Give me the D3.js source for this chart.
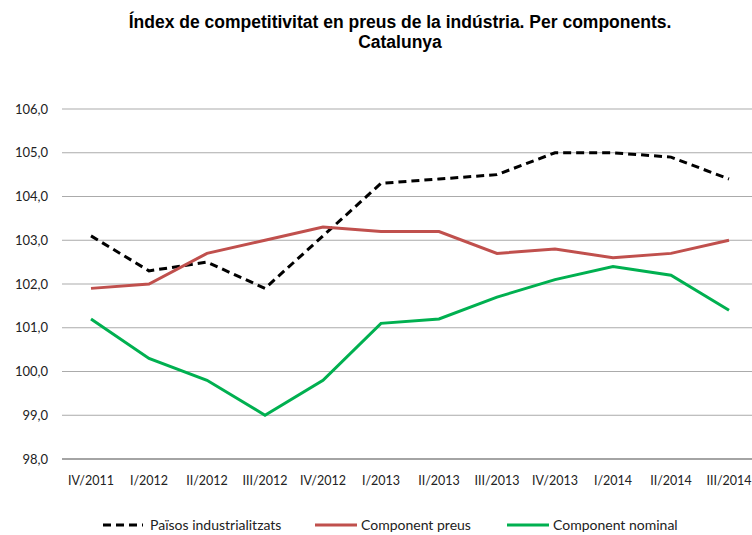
<!DOCTYPE html>
<html>
<head>
<meta charset="utf-8">
<script src="https://cdn.jsdelivr.net/npm/d3@7"></script>
<style>
body{margin:0;background:#fff;}
</style>
</head>
<body>
<div id="chart-area"></div>
<script>
var quarters=["IV/2011","I/2012","II/2012","III/2012","IV/2012","I/2013","II/2013","III/2013","IV/2013","I/2014","II/2014","III/2014"];
var paisos=[103.1,102.3,102.5,101.9,103.1,104.3,104.4,104.5,105.0,105.0,104.9,104.4];
var preus=[101.9,102.0,102.7,103.0,103.3,103.2,103.2,102.7,102.8,102.6,102.7,103.0];
var nominal=[101.2,100.3,99.8,99.0,99.8,101.1,101.2,101.7,102.1,102.4,102.2,101.4];
var yTicks=[98,99,100,101,102,103,104,105,106];

var series=[
    {name:"Països industrialitzats",values:paisos,color:"#000000",dash:"8,5"},
    {name:"Component preus",values:preus,color:"#c0504d",dash:null},
    {name:"Component nominal",values:nominal,color:"#00b050",dash:null}
];

var W=752,H=535;
var margin={left:62,top:109,right:0,bottom:76};
var width=696, height=350;
var labelFont="Lato, 'Open Sans', sans-serif";

var svg=d3.select("#chart-area").append("svg")
    .attr("width",W)
    .attr("height",H);

var g=svg.append("g")
    .attr("transform","translate("+margin.left+","+margin.top+")");

var x=d3.scaleBand().domain(quarters).range([0,width]);
var y=d3.scaleLinear().domain([98,106]).range([height,0]);

// gridlines
g.selectAll(".grid").data(yTicks).enter()
    .append("line")
    .attr("x1",0).attr("x2",width)
    .attr("y1",d=>y(d)).attr("y2",d=>y(d))
    .attr("stroke",d=>d===98?"#868686":"#ababab")
    .attr("stroke-width",d=>d===98?1.5:1);

// y labels
g.selectAll(".ylab").data(yTicks).enter()
    .append("text")
    .attr("x",-14)
    .attr("y",d=>y(d))
    .attr("dy","0.35em")
    .attr("text-anchor","end")
    .attr("font-family",labelFont)
    .attr("font-size","13px")
    .attr("fill","#222")
    .text(d=>d3.format(".1f")(d).replace(".",","));

// x labels
g.selectAll(".xlab").data(quarters).enter()
    .append("text")
    .attr("x",d=>x(d)+x.bandwidth()/2)
    .attr("y",height+26)
    .attr("text-anchor","middle")
    .attr("font-family",labelFont)
    .attr("font-size","12.5px")
    .attr("fill","#222")
    .text(d=>d);

var line=d3.line()
    .x((d,i)=>x(quarters[i])+x.bandwidth()/2)
    .y(d=>y(d));

g.selectAll(".series").data(series).enter()
    .append("path")
    .attr("d",d=>line(d.values))
    .attr("fill","none")
    .attr("stroke",d=>d.color)
    .attr("stroke-width",3)
    .attr("stroke-dasharray",d=>d.dash);

// title
var title=svg.append("text")
    .attr("x",400)
    .attr("y",28)
    .attr("text-anchor","middle")
    .attr("font-family","'Liberation Sans', Arial, sans-serif")
    .attr("font-weight","bold")
    .attr("font-size","17.5px")
    .attr("fill","#000");
title.append("tspan").attr("x",400).text("Índex de competitivitat  en preus de la indústria. Per components.");
title.append("tspan").attr("x",400).attr("dy","20").text("Catalunya");

// legend
var legendX=[103,315,507];
var leg=svg.selectAll(".leg").data(series).enter()
    .append("g")
    .attr("transform",(d,i)=>"translate("+legendX[i]+",525)");
leg.append("line")
    .attr("x1",0).attr("x2",(d,i)=>i===0?40:42)
    .attr("y1",0).attr("y2",0)
    .attr("stroke",d=>d.color)
    .attr("stroke-width",3)
    .attr("stroke-dasharray",d=>d.dash);
leg.append("text")
    .attr("x",(d,i)=>i===0?47:46)
    .attr("y",0)
    .attr("dy","0.35em")
    .attr("font-family",labelFont)
    .attr("font-size","14px")
    .attr("fill","#222")
    .text(d=>d.name);
</script>
</body>
</html>
